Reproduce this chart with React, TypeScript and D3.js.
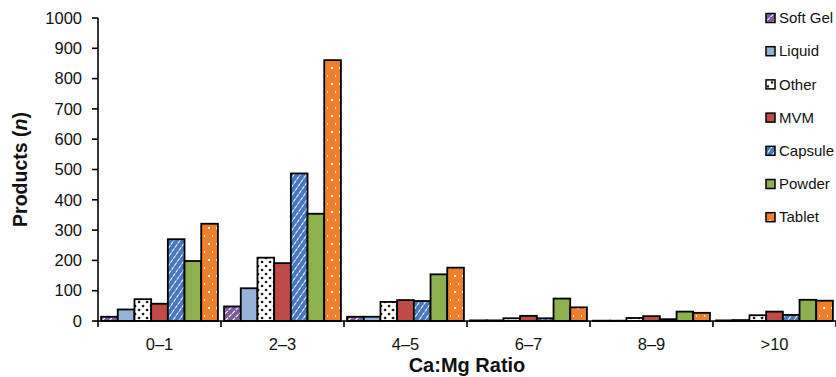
import React from "react"
import * as d3 from "d3"

// data
const ratios = ["0–1", "2–3", "4–5", "6–7", "8–9", ">10"]
const forms = ["Soft Gel", "Liquid", "Other", "MVM", "Capsule", "Powder", "Tablet"]
const softGel = [14, 48, 14, 2, 1, 2]
const liquid = [38, 108, 14, 2, 1, 3]
const other = [72, 209, 63, 9, 10, 19]
const mvm = [57, 191, 69, 17, 16, 31]
const capsule = [270, 487, 66, 9, 6, 20]
const powder = [198, 354, 154, 74, 31, 70]
const tablet = [321, 861, 176, 45, 27, 67]
const yTicks = [0, 100, 200, 300, 400, 500, 600, 700, 800, 900, 1000]

const series = [softGel, liquid, other, mvm, capsule, powder, tablet]
const fills = ["url(#pSoft)", "#95b3d7", "url(#pOther)", "#be4b48", "url(#pCaps)", "#8eb04f", "url(#pTab)"]

const W = 836, H = 377
const margin = { top: 18, right: 0, bottom: 56, left: 98 }
const font = "'Liberation Sans', Arial, sans-serif"

export default function App() {
    const x0 = d3.scaleBand().domain(ratios).range([margin.left, W - margin.right]).paddingInner(0.05).paddingOuter(0.025)
    const x1 = d3.scaleBand().domain(forms).range([0, x0.bandwidth()])
    const y = d3.scaleLinear().domain([0, 1000]).range([H - margin.bottom, margin.top])
    const step = x0.step()
    const base = y(0)

    return (
        <svg width={W} height={H} style={{ position: "absolute", left: 0, top: 0, background: "#fff" }}>
            <defs>
                <pattern id="pSoft" width="5" height="5" patternUnits="userSpaceOnUse" patternTransform="rotate(-45)">
                    <rect width="5" height="5" fill="#7a5c9f" />
                    <line x1="0" y1="2.5" x2="5" y2="2.5" stroke="#fff" strokeWidth="1.1" strokeDasharray="3 1" />
                </pattern>
                <pattern id="pCaps" width="5" height="5" patternUnits="userSpaceOnUse" patternTransform="rotate(-55)">
                    <rect width="5" height="5" fill="#4677c0" />
                    <line x1="0" y1="2.5" x2="5" y2="2.5" stroke="#fff" strokeWidth="1.2" strokeDasharray="3.5 1" />
                </pattern>
                <pattern id="pOther" width="8" height="8" patternUnits="userSpaceOnUse">
                    <rect width="8" height="8" fill="#fff" />
                    <circle cx="2" cy="2" r="1.3" fill="#111" />
                    <circle cx="6" cy="6" r="1.3" fill="#111" />
                </pattern>
                <pattern id="pTab" width="8" height="16" patternUnits="userSpaceOnUse">
                    <rect width="8" height="16" fill="#f07f2d" />
                    <rect x="3" y="3" width="2" height="2" fill="#fff" />
                    <rect x="7" y="11" width="2" height="2" fill="#fff" />
                </pattern>
            </defs>

            {/* bars */}
            {ratios.map((r, i) => (
                <g key={r} transform={`translate(${x0(r)},0)`}>
                    {forms.map((f, j) => {
                        const v = series[j][i]
                        return (
                            <rect key={f} x={x1(f)} y={y(v)} width={x1.bandwidth()} height={base - y(v)}
                                fill={fills[j]} stroke="#000" strokeWidth={1.8} />
                        )
                    })}
                </g>
            ))}

            {/* y axis */}
            <line x1={margin.left} x2={margin.left} y1={y(1000)} y2={base} stroke="#000" strokeWidth={1.6} />
            {yTicks.map(t => (
                <g key={t}>
                    <line x1={margin.left - 6} x2={margin.left} y1={y(t)} y2={y(t)} stroke="#000" strokeWidth={1.6} />
                    <text x={82} y={y(t)} dy="0.35em" textAnchor="end" fontFamily={font} fontSize={16.5} fill="#111">{t}</text>
                </g>
            ))}

            {/* x axis */}
            <line x1={margin.left} x2={W} y1={base} y2={base} stroke="#000" strokeWidth={1.6} />
            {d3.range(ratios.length + 1).map(k => (
                <line key={k} x1={margin.left + k * step} x2={margin.left + k * step} y1={base} y2={base + 6} stroke="#000" strokeWidth={1.6} />
            ))}
            {ratios.map(r => (
                <text key={r} x={x0(r)! + x0.bandwidth() / 2} y={350} textAnchor="middle" fontFamily={font} fontSize={16.5} fill="#111">{r}</text>
            ))}

            {/* axis titles */}
            <text x={(margin.left + W) / 2} y={372} textAnchor="middle" fontFamily={font} fontSize={20} fontWeight="bold" fill="#111">Ca:Mg Ratio</text>
            <text transform={`translate(27,${(y(1000) + base) / 2}) rotate(-90)`} textAnchor="middle" fontFamily={font} fontSize={19.5} fontWeight="bold" fill="#111">
                Products (<tspan fontStyle="italic">n</tspan>)
            </text>

            {/* legend */}
            {forms.map((f, j) => (
                <g key={f} transform={`translate(766,${18 + j * 33.2})`}>
                    <rect x={0} y={-4.5} width={9} height={9} fill={fills[j]} stroke="#000" strokeWidth={1.5} />
                    <text x={13} y={0} dy="0.35em" fontFamily={font} fontSize={15} fill="#111">{f}</text>
                </g>
            ))}
        </svg>
    )
}
